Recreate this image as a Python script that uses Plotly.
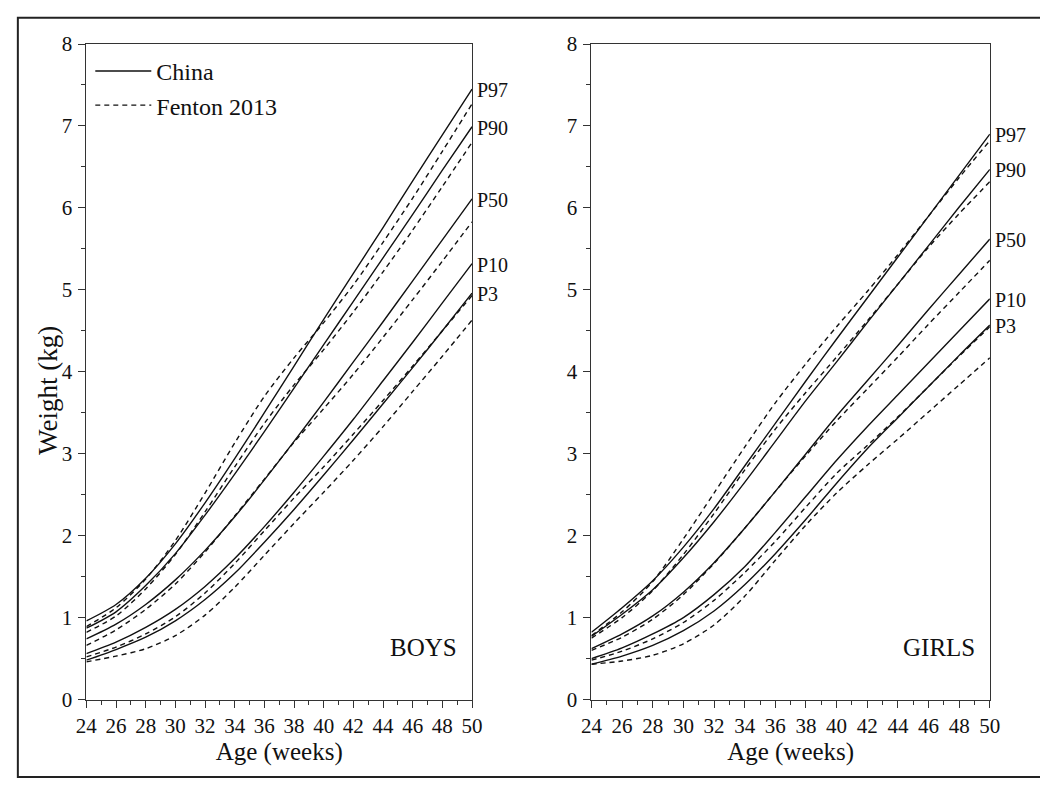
import plotly.graph_objects as go

weeks = [24, 26, 28, 30, 32, 34, 36, 38, 40, 42, 44, 46, 48, 50]
percentiles = ["P97", "P90", "P50", "P10", "P3"]

# BOYS (kg)
boys_china = {
    "P97": [0.96, 1.16, 1.48, 1.90, 2.40, 2.94, 3.50, 4.07, 4.64, 5.20, 5.76, 6.33, 6.89, 7.45],
    "P90": [0.87, 1.07, 1.39, 1.78, 2.25, 2.75, 3.27, 3.80, 4.33, 4.86, 5.39, 5.92, 6.46, 6.99],
    "P50": [0.74, 0.92, 1.16, 1.46, 1.82, 2.23, 2.68, 3.15, 3.63, 4.12, 4.61, 5.11, 5.61, 6.11],
    "P10": [0.56, 0.70, 0.88, 1.10, 1.38, 1.72, 2.11, 2.53, 2.97, 3.42, 3.89, 4.36, 4.84, 5.32],
    "P3":  [0.48, 0.61, 0.76, 0.96, 1.22, 1.54, 1.92, 2.32, 2.74, 3.17, 3.61, 4.05, 4.50, 4.96],
}
boys_fenton = {
    "P97": [0.89, 1.12, 1.47, 1.94, 2.52, 3.13, 3.70, 4.17, 4.60, 5.06, 5.58, 6.12, 6.69, 7.27],
    "P90": [0.82, 1.02, 1.35, 1.77, 2.29, 2.84, 3.37, 3.84, 4.27, 4.73, 5.22, 5.73, 6.26, 6.80],
    "P50": [0.66, 0.85, 1.10, 1.41, 1.80, 2.24, 2.69, 3.14, 3.55, 3.97, 4.42, 4.88, 5.35, 5.83],
    "P10": [0.52, 0.64, 0.80, 1.01, 1.30, 1.66, 2.06, 2.46, 2.84, 3.24, 3.65, 4.07, 4.50, 4.93],
    "P3":  [0.46, 0.53, 0.62, 0.78, 1.03, 1.37, 1.76, 2.15, 2.53, 2.92, 3.33, 3.76, 4.19, 4.63],
}

# GIRLS (kg)
girls_china = {
    "P97": [0.82, 1.12, 1.45, 1.86, 2.33, 2.85, 3.37, 3.89, 4.40, 4.90, 5.40, 5.90, 6.40, 6.90],
    "P90": [0.77, 1.04, 1.34, 1.73, 2.17, 2.65, 3.15, 3.65, 4.12, 4.60, 5.07, 5.54, 6.01, 6.47],
    "P50": [0.62, 0.80, 1.02, 1.31, 1.67, 2.09, 2.54, 3.00, 3.46, 3.89, 4.32, 4.76, 5.19, 5.62],
    "P10": [0.50, 0.63, 0.80, 1.00, 1.28, 1.62, 2.04, 2.48, 2.92, 3.33, 3.72, 4.11, 4.50, 4.89],
    "P3":  [0.43, 0.53, 0.66, 0.84, 1.08, 1.40, 1.78, 2.20, 2.64, 3.06, 3.44, 3.82, 4.20, 4.57],
}
girls_fenton = {
    "P97": [0.78, 1.07, 1.44, 1.96, 2.52, 3.08, 3.62, 4.10, 4.55, 4.98, 5.43, 5.90, 6.37, 6.82],
    "P90": [0.75, 1.00, 1.33, 1.77, 2.27, 2.80, 3.30, 3.75, 4.18, 4.62, 5.07, 5.52, 5.93, 6.32],
    "P50": [0.60, 0.76, 0.98, 1.28, 1.66, 2.09, 2.54, 2.98, 3.40, 3.79, 4.18, 4.58, 4.97, 5.36],
    "P10": [0.48, 0.59, 0.74, 0.94, 1.21, 1.55, 1.93, 2.35, 2.76, 3.10, 3.45, 3.82, 4.19, 4.55],
    "P3":  [0.43, 0.47, 0.54, 0.68, 0.91, 1.26, 1.70, 2.13, 2.52, 2.86, 3.18, 3.51, 3.84, 4.17],
}

panel_titles = ["BOYS", "GIRLS"]
legend_names = ["China", "Fenton 2013"]
y_title = "Weight (kg)"
x_title = "Age (weeks)"

FONT = "Liberation Serif"
BLACK = "#111111"
AXC = "#333333"

fig = go.Figure()

panels = [(boys_china, boys_fenton, "x", "y"), (girls_china, girls_fenton, "x2", "y2")]
first = True
for china, fenton, xa, ya in panels:
    for p in percentiles:
        fig.add_trace(go.Scatter(
            x=weeks, y=china[p], mode="lines", xaxis=xa, yaxis=ya,
            line=dict(color=BLACK, width=1.4, shape="spline", smoothing=0.8),
            name=legend_names[0], legendgroup="china",
            showlegend=first and p == "P97"))
        fig.add_trace(go.Scatter(
            x=weeks, y=fenton[p], mode="lines", xaxis=xa, yaxis=ya,
            line=dict(color=BLACK, width=1.4, dash="5px,4px", shape="spline", smoothing=0.8),
            name=legend_names[1], legendgroup="fenton",
            showlegend=first and p == "P97"))
    first = False

annotations = []
for china, xa, ya in [(boys_china, "x", "y"), (girls_china, "x2", "y2")]:
    for p in percentiles:
        annotations.append(dict(
            x=weeks[-1], y=china[p][-1], xref=xa, yref=ya, text=p,
            showarrow=False, xanchor="left", yanchor="middle", xshift=3, yshift=-1,
            font=dict(family=FONT, size=20, color=BLACK)))

for title, xa, ya in [(panel_titles[0], "x", "y"), (panel_titles[1], "x2", "y2")]:
    annotations.append(dict(
        x=weeks[-1], y=0.63, xref=xa, yref=ya, text=title, showarrow=False,
        xanchor="right", yanchor="middle", xshift=-13,
        font=dict(family=FONT, size=25, color=BLACK)))

annotations.append(dict(
    x=37.5/1040, y=1 - 390/792, xref="paper", yref="paper", text=y_title,
    showarrow=False, textangle=-90, xanchor="center", yanchor="middle",
    font=dict(family=FONT, size=27, color=BLACK)))

axis_common = dict(
    showline=True, linecolor=AXC, linewidth=1, mirror=True,
    ticks="outside", ticklen=7, tickwidth=1, tickcolor=AXC,
    showgrid=False, zeroline=False,
    tickfont=dict(family=FONT, size=21, color=BLACK),
)

xaxis_common = dict(axis_common, range=[24, 50], dtick=2, tick0=24, ticklabelstandoff=0,
                    minor=dict(ticks="outside", ticklen=4, dtick=1, tickcolor=AXC, showgrid=False),
                    title=dict(text=x_title, font=dict(family=FONT, size=25, color=BLACK), standoff=4))
yaxis_common = dict(axis_common, range=[0, 8], dtick=1, tick0=0, ticklabelstandoff=2,
                    minor=dict(ticks="outside", ticklen=4, dtick=0.5, tickcolor=AXC, showgrid=False))

fig.update_layout(
    width=1040, height=792,
    margin=dict(l=0, r=0, t=0, b=0),
    paper_bgcolor="white", plot_bgcolor="white",
    font=dict(family=FONT, color=BLACK),
    xaxis=dict(xaxis_common, domain=[77/1040, 471/1040], anchor="y"),
    yaxis=dict(yaxis_common, domain=[1 - 709/792, 1 - 33/792], anchor="x"),
    xaxis2=dict(xaxis_common, domain=[593/1040, 1000/1040], anchor="y2"),
    yaxis2=dict(yaxis_common, domain=[1 - 709/792, 1 - 33/792], anchor="x2"),
    legend=dict(x=81/1040, y=1 - 38/792, xanchor="left", yanchor="top",
                bgcolor="rgba(0,0,0,0)", font=dict(family=FONT, size=24, color=BLACK),
                tracegroupgap=0, itemwidth=56),
    annotations=annotations,
    shapes=[dict(type="rect", xref="paper", yref="paper",
                 x0=7/1040, x1=1.02, y0=1 - 789/792, y1=1 - 6/792,
                 line=dict(color="#222222", width=2))],
    showlegend=True,
)

fig.write_html("out.html")
